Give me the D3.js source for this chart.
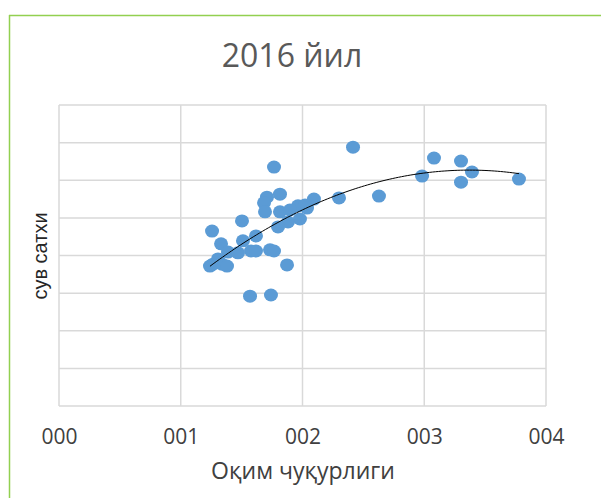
<!DOCTYPE html>
<html><head><meta charset="utf-8">
<script src="https://cdn.jsdelivr.net/npm/d3@7"></script>
<style>html,body{margin:0;padding:0;background:#fff;overflow:hidden}</style>
</head><body><svg id="c" width="601" height="498"></svg>
<script>
const title = "2016 йил";
const xTitle = "Оқим чуқурлиги";
const yTitle = "сув сатхи";
const xTicks = [0, 1, 2, 3, 4];
const xTickLabels = ["000", "001", "002", "003", "004"];
const yTicks = [0, 1, 2, 3, 4, 5, 6, 7, 8];
const xValues = [2.415,3.080,3.302,3.392,2.982,3.302,3.778,2.628,2.300,2.094,
  1.766,1.815,1.708,1.684,1.963,2.021,2.037,1.815,1.897,1.692,
  1.979,1.881,1.799,1.503,1.257,1.618,1.511,1.331,1.388,1.470,
  1.577,1.618,1.733,1.766,1.265,1.306,1.240,1.339,1.380,1.873,
  1.569,1.741];
const yValues = [6.88,6.59,6.51,6.22,6.11,5.95,6.03,5.58,5.53,5.50,
  6.35,5.63,5.55,5.40,5.32,5.34,5.26,5.16,5.21,5.16,
  4.97,4.89,4.76,4.92,4.65,4.52,4.39,4.31,4.09,4.07,
  4.12,4.12,4.15,4.12,3.77,3.91,3.72,3.77,3.72,3.75,
  2.92,2.95];

const svg = d3.select("#c");
const L = 59, R = 546, T = 105, B = 406;
const x = d3.scaleLinear().domain([0, 4]).range([L, R]);
const y = d3.scaleLinear().domain([0, 8]).range([B, T]);

// outer frame (green, top and left visible)
svg.append("line").attr("x1", 9).attr("x2", 601).attr("y1", 15.5).attr("y2", 15.5)
  .attr("stroke", "#92D050").attr("stroke-width", 1.5);
svg.append("line").attr("x1", 9.5).attr("x2", 9.5).attr("y1", 15).attr("y2", 498)
  .attr("stroke", "#92D050").attr("stroke-width", 1.5);

// gridlines
const grid = svg.append("g").attr("stroke", "#D9D9D9").attr("stroke-width", 1.5);
grid.selectAll(".h").data(yTicks).enter().append("line")
  .attr("x1", L).attr("x2", R).attr("y1", d => y(d)).attr("y2", d => y(d));
grid.selectAll(".v").data(xTicks).enter().append("line")
  .attr("y1", T).attr("y2", B).attr("x1", d => x(d)).attr("x2", d => x(d));

// x axis labels via d3 axis
const xAxis = d3.axisBottom(x).tickValues(xTicks).tickFormat((d, i) => xTickLabels[i]).tickSize(0).tickPadding(0);
const gx = svg.append("g").attr("transform", `translate(0,${B + 23})`).call(xAxis);
gx.select(".domain").remove();
gx.selectAll("text").attr("font-family", "Open Sans, sans-serif").attr("font-size", 21).attr("fill", "#404040");

// points
const pts = xValues.map((v, i) => ({x: v, y: yValues[i]}));
svg.append("g").selectAll("ellipse").data(pts).enter().append("ellipse")
  .attr("cx", d => x(d.x)).attr("cy", d => y(d.y)).attr("rx", 7).attr("ry", 6.5)
  .attr("fill", "#5B9BD5");

// polynomial (order 2) trendline fitted to the data
function polyfit2(xs, ys) {
  let n = xs.length, s = [0,0,0,0,0], t = [0,0,0];
  for (let i = 0; i < n; i++) {
    let p = 1;
    for (let k = 0; k <= 4; k++) { s[k] += p; if (k <= 2) t[k] += p * ys[i]; p *= xs[i]; }
  }
  const A = [[s[0],s[1],s[2],t[0]],[s[1],s[2],s[3],t[1]],[s[2],s[3],s[4],t[2]]];
  for (let i = 0; i < 3; i++) {
    for (let j = i + 1; j < 3; j++) {
      const f = A[j][i] / A[i][i];
      for (let k = i; k < 4; k++) A[j][k] -= f * A[i][k];
    }
  }
  const c = [0,0,0];
  for (let i = 2; i >= 0; i--) {
    let v = A[i][3];
    for (let k = i + 1; k < 3; k++) v -= A[i][k] * c[k];
    c[i] = v / A[i][i];
  }
  return c;
}
const c = polyfit2(xValues, yValues);
const [xmin, xmax] = d3.extent(xValues);
const trend = d3.range(0, 101).map(i => { const xv = xmin + (xmax - xmin) * i / 100; return [xv, c[0] + c[1]*xv + c[2]*xv*xv]; });
svg.append("path").datum(trend)
  .attr("d", d3.line().x(d => x(d[0])).y(d => y(d[1])))
  .attr("fill", "none").attr("stroke", "#000").attr("stroke-width", 1);

// titles
svg.append("text").attr("x", 292).attr("y", 67).attr("text-anchor", "middle")
  .attr("font-family", "Open Sans, sans-serif").attr("font-size", 32).attr("fill", "#595959").text(title);
svg.append("text").attr("x", 303).attr("y", 479).attr("text-anchor", "middle")
  .attr("font-family", "Open Sans, sans-serif").attr("font-size", 23).attr("fill", "#404040").text(xTitle);
svg.append("text").attr("transform", "translate(47,256) rotate(-90)").attr("text-anchor", "middle")
  .attr("font-family", "Liberation Sans, Arial, sans-serif").attr("font-size", 20).attr("fill", "#262626").text(yTitle);
</script></body></html>
